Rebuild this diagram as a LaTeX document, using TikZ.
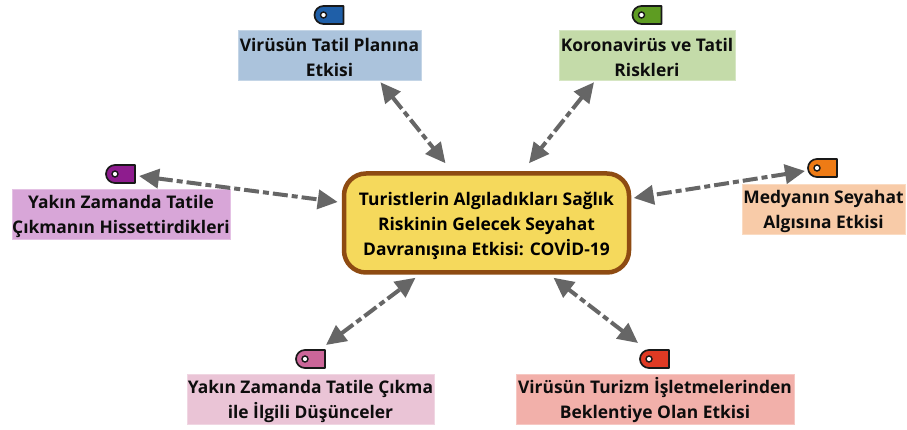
\documentclass[tikz,border=0pt]{standalone}
\usepackage{fontspec}
\setmainfont{Open Sans}
\definecolor{cblue}{HTML}{ABC3DC}\definecolor{cgreen}{HTML}{C4DBA9}
\definecolor{cpurple}{HTML}{D8A6D8}\definecolor{corange}{HTML}{F8CBA8}
\definecolor{cpink}{HTML}{EAC4D6}\definecolor{cred}{HTML}{F2B0AA}
\definecolor{tblue}{HTML}{1F5FA8}\definecolor{tgreen}{HTML}{5E9C22}
\definecolor{tpurple}{HTML}{8E1C8E}\definecolor{torange}{HTML}{EE7B15}
\definecolor{tpink}{HTML}{CC6699}\definecolor{tred}{HTML}{E03A24}
\definecolor{cfill}{HTML}{F5D95C}\definecolor{cedge}{HTML}{8E4B12}
\definecolor{link}{HTML}{666666}
\usetikzlibrary{arrows.meta}
\newcommand{\dn}{\rule{0pt}{19pt}}
\tikzset{
  topic/.style={fill=#1,draw=#1!70!white,line width=.5pt,inner sep=0pt,align=center,text=black!95,
    font=\fontsize{17.4}{25}\selectfont\bfseries,minimum height=50pt},
  hub/.style={fill=cfill,draw=cedge,line width=4.5pt,rounded corners=22pt,inner sep=0pt,align=center,
    font=\fontsize{17.4}{25}\selectfont\bfseries,minimum width=285pt,minimum height=99pt},
  linkline/.style={draw=link,line width=4pt,dash pattern=on 15pt off 4pt on 6pt off 4pt,
    {Triangle[length=20pt,width=19pt]}-{Triangle[length=20pt,width=19pt]}},
}
% tag: #1 name, #2 colour, #3 left x, #4 top y
\newcommand{\tagmark}[4]{%
  \coordinate (#1) at (#3+14,#4+9);
  \draw[fill=#2,draw=black!90,line width=1.7pt,line join=round]
    (#3+8,#4) -- (#3+28,#4) -- (#3+28,#4+18) -- (#3+8,#4+18)
    arc[start angle=270,end angle=90,radius=9pt] -- cycle;
  \fill[white,draw=black!90,line width=1.4pt] (#3+8,#4+9) circle[radius=3pt];
}
\begin{document}
\begin{tikzpicture}[x=1pt,y=-1pt]
\useasboundingbox (0,0) rectangle (907,430);
\node[topic=cblue,minimum width=183pt] (a) at (329.5,55) {\dn Virüsün Tatil Planına\\Etkisi};
\node[topic=cgreen,minimum width=176pt] (b) at (647,55) {\dn Koronavirüs ve Tatil\\Riskleri};
\node[topic=cpurple,minimum width=218pt] (c) at (121,214) {\dn Yakın Zamanda Tatile\\Çıkmanın Hissettirdikleri};
\node[topic=corange,minimum width=163pt] (d) at (823.5,209) {\dn Medyanın Seyahat\\Algısına Etkisi};
\node[topic=cpink,minimum width=247pt] (e) at (310.5,399) {\dn Yakın Zamanda Tatile Çıkma\\ile İlgili Düşünceler};
\node[topic=cred,minimum width=278pt] (f) at (655,399) {\dn Virüsün Turizm İşletmelerinden\\Beklentiye Olan Etkisi};
\node[hub] (h) at (486.5,223) {\dn Turistlerin Algıladıkları Sağlık\\Riskinin Gelecek Seyahat\\Davranışına Etkisi: COVİD-19};
\tagmark{ta}{tblue}{315.5}{6}
\tagmark{tb}{tgreen}{633.5}{6}
\tagmark{tc}{tpurple}{107}{165}
\tagmark{td}{torange}{809}{159}
\tagmark{te}{tpink}{297}{350}
\tagmark{tf}{tred}{641}{350}
\draw[linkline] ([shift={(51,2)}]a.south) -- ([shift={(-41,-8)}]h.north);
\draw[linkline] ([shift={(-53,2)}]b.south) -- ([shift={(42.5,-8)}]h.north);
\draw[linkline] ([shift={(18,2)}]tc) -- ([shift={(-4,-21)}]h.west);
\draw[linkline] ([shift={(-18,3)}]td) -- ([shift={(2.5,-25)}]h.east);
\draw[linkline] ([shift={(15,-14)}]te) -- ([shift={(-71,3)}]h.south);
\draw[linkline] ([shift={(-17,-16)}]tf) -- ([shift={(67,3)}]h.south);
\end{tikzpicture}
\end{document}
